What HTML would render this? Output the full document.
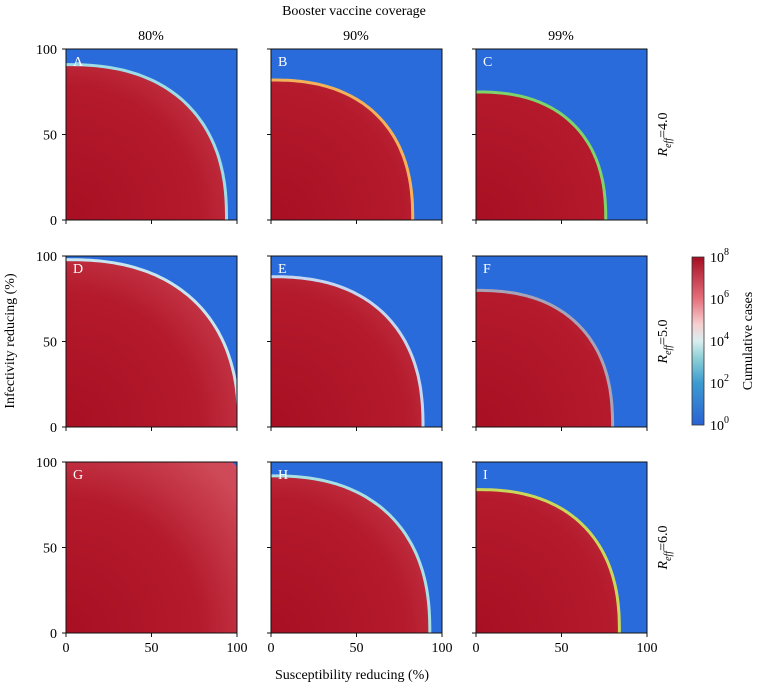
<!DOCTYPE html>
<html><head><meta charset="utf-8"><style>
body{margin:0;background:#fff}
svg{font-family:"Liberation Serif",serif;}
</style></head><body>
<svg id="fig" width="758" height="686">
<defs>
<linearGradient id="cbg" x1="0" y1="1" x2="0" y2="0">
<stop offset="0" stop-color="#2a62d4"/><stop offset="0.25" stop-color="#3d9bd0"/>
<stop offset="0.4" stop-color="#8fd0d6"/><stop offset="0.5" stop-color="#dbeef0"/>
<stop offset="0.6" stop-color="#f6cfd0"/><stop offset="0.75" stop-color="#e5707c"/>
<stop offset="1" stop-color="#a50d22"/></linearGradient>
</defs>
<text x="354" y="15" font-size="14" text-anchor="middle">Booster vaccine coverage</text>
<text x="151" y="40" font-size="14" text-anchor="middle">80%</text>
<text x="356" y="40" font-size="14" text-anchor="middle">90%</text>
<text x="561" y="40" font-size="14" text-anchor="middle">99%</text>
<text x="352" y="679" font-size="14" text-anchor="middle">Susceptibility reducing (%)</text>
<text transform="translate(14,341) rotate(-90)" font-size="14" text-anchor="middle">Infectivity reducing (%)</text>
<g id="panels"></g>
<rect x="692" y="257" width="12" height="168" fill="url(#cbg)" stroke="#333" stroke-width="0.8"/>
<g font-size="14">
<text x="710" y="430">10<tspan dy="-7" font-size="10">0</tspan></text>
<text x="710" y="388">10<tspan dy="-7" font-size="10">2</tspan></text>
<text x="710" y="346">10<tspan dy="-7" font-size="10">4</tspan></text>
<text x="710" y="304">10<tspan dy="-7" font-size="10">6</tspan></text>
<text x="710" y="262">10<tspan dy="-7" font-size="10">8</tspan></text>
</g>
<text transform="translate(752,341) rotate(-90)" font-size="14" text-anchor="middle">Cumulative cases</text>
</svg>
<script>
const panelLetters=["A","B","C","D","E","F","G","H","I"];
const xIntercepts=[93,82,75,100,88,79,130,92,83];
const yIntercepts=[90,81,74,97,87,79,130,91,83];
const edgeColors=["#9fdde6","#f2b25a","#7ed36a","#c9e6ee","#c6d8f0","#a9a3b6","#d04a6a","#a8e0e4","#c9d85a"];
const rowLabels=["4.0","5.0","6.0"];
const tickValues=[0,50,100];
const NS="http://www.w3.org/2000/svg";
const colX=[66,271,476], rowY=[49,256,462], W=171, H=171;
const g=document.getElementById('panels');
const defs=document.querySelector('defs');
function mk(t,a){const e=document.createElementNS(NS,t);for(const k in a)e.setAttribute(k,a[k]);return e;}
for(let i=0;i<9;i++){
  const r=Math.floor(i/3),c=i%3,x0=colX[c],y0=rowY[r];
  const sx=v=>x0+v/100*W, sy=v=>y0+H-v/100*H;
  const grad=mk('radialGradient',{id:'rg'+i,gradientUnits:'userSpaceOnUse',cx:x0,cy:y0+H,r:W*1.3});
  grad.innerHTML='<stop offset="0" stop-color="#a80f22"/><stop offset="0.6" stop-color="#b41a2c"/><stop offset="1" stop-color="#cf4a58"/>';
  defs.appendChild(grad);
  const pg=mk('g',{});
  
  
  const bg=mk('rect',{x:x0,y:y0,width:W,height:H,fill:'#2a6bdc'});
  
  
  pg.appendChild(bg);
  const clip=mk('clipPath',{id:'cp'+i});clip.appendChild(mk('rect',{x:x0,y:y0,width:W,height:H}));defs.appendChild(clip);
  const a=xIntercepts[i],b=yIntercepts[i],p=2.4;
  let d='M'+sx(0)+','+sy(0);
  for(let k=0;k<=80;k++){const t=k/80*Math.PI/2;
    const px=a*Math.pow(Math.cos(t),2/p), py=b*Math.pow(Math.sin(t),2/p);
    d+=' L'+sx(px).toFixed(1)+','+sy(py).toFixed(1);}
  d+=' Z';
  const edge=mk('path',{d:d,fill:edgeColors[i],stroke:edgeColors[i],'stroke-width':6,'clip-path':'url(#cp'+i+')'});
  
  
  pg.appendChild(edge);
  const reg=mk('path',{d:d,fill:'url(#rg'+i+')','clip-path':'url(#cp'+i+')'});
  
  
  pg.appendChild(reg);
  pg.appendChild(mk('rect',{x:x0,y:y0,width:W,height:H,fill:'none',stroke:'#111','stroke-width':1}));
  const lt=mk('text',{x:x0+7,y:y0+17,fill:'#fff','font-size':14});lt.textContent=panelLetters[i];
  
  
  pg.appendChild(lt);
  tickValues.forEach(v=>{
    pg.appendChild(mk('line',{x1:sx(v),x2:sx(v),y1:y0+H,y2:y0+H+4,stroke:'#111'}));
    if(r===2){const t=mk('text',{x:sx(v),y:y0+H+19,'font-size':14,'text-anchor':'middle'});t.textContent=v;
      pg.appendChild(t);}
    pg.appendChild(mk('line',{x1:x0-4,x2:x0,y1:sy(v),y2:sy(v),stroke:'#111'}));
    if(c===0){const t=mk('text',{x:x0-9,y:sy(v)+5,'font-size':14,'text-anchor':'end'});t.textContent=v;
      pg.appendChild(t);}
  });
  g.appendChild(pg);
}
rowLabels.forEach((v,r)=>{
  const t=mk('text',{transform:'translate(667,'+(rowY[r]+H/2)+') rotate(-90)','font-size':14,'text-anchor':'middle'});
  t.innerHTML='<tspan font-style="italic">R</tspan><tspan dy="4" font-size="10" font-style="italic">eff</tspan><tspan dy="-4">='+v+'</tspan>';
  
  
  g.appendChild(t);
});
</script>
</body></html>
